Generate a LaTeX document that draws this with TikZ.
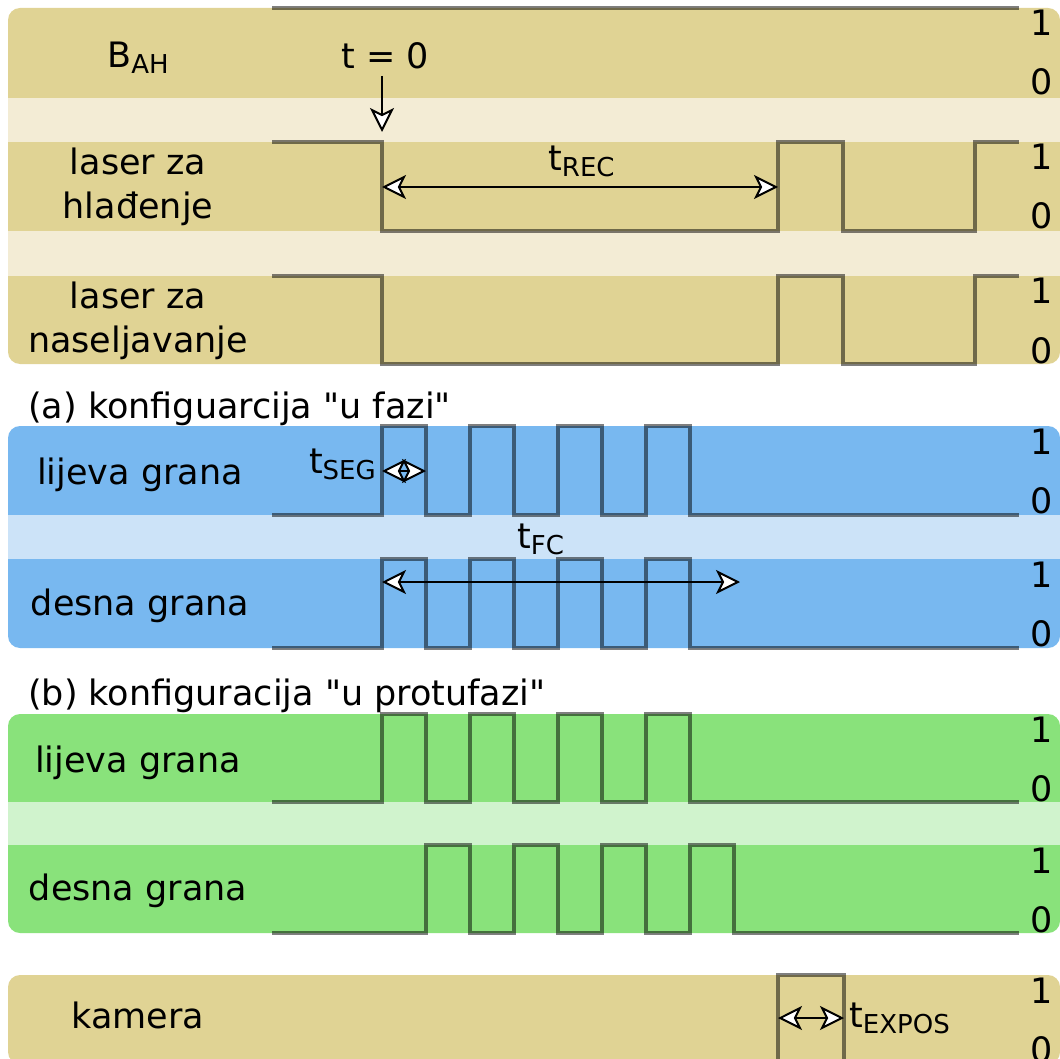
\documentclass[tikz,border=0pt]{standalone}
\usepackage{fontspec}
\setmainfont{DejaVu Sans}
\usetikzlibrary{arrows.meta}

\definecolor{tan}{RGB}{224,211,148}
\definecolor{tanlight}{RGB}{243,236,213}
\definecolor{blu}{RGB}{120,184,240}
\definecolor{blulight}{RGB}{204,227,248}
\definecolor{grn}{RGB}{137,226,123}
\definecolor{grnlight}{RGB}{208,243,205}

\newcommand{\lsub}[1]{\raisebox{-6pt}{\fontsize{26}{26}\selectfont #1}}
\newcommand{\dq}{\XeTeXglyph\XeTeXcharglyph"0022\relax}

\begin{document}
\begin{tikzpicture}[x=1pt, y=-1pt,
  every node/.style={font=\fontsize{35}{44}\selectfont, inner sep=0pt},
  sig/.style={draw=black, draw opacity=.5, line width=3.5pt},
  dim/.style={draw=black, line width=2pt},
  >={Stealth[length=24pt, width=24pt, inset=6pt, fill=white]}]
  \useasboundingbox (0,0) rectangle (1060,1059);

  % pozadina
  \fill[tan, rounded corners=12pt] (8,8) rectangle (1060,364);
  \fill[tanlight] (8,98) rectangle (1060,142);
  \fill[tanlight] (8,231) rectangle (1060,276);
  \fill[blu, rounded corners=12pt] (8,426) rectangle (1060,648);
  \fill[blulight] (8,515) rectangle (1060,559);
  \fill[grn, rounded corners=12pt] (8,714) rectangle (1060,933);
  \fill[grnlight] (8,802) rectangle (1060,845);
  \fill[tan, rounded corners=12pt] (8,975) rectangle (1060,1064);

  % signali
  \draw[sig] (272,8) -- (1019,8);
  \draw[sig] (272,142) -- (382,142) -- (382,231) -- (778,231) -- (778,142) -- (843,142) -- (843,231) -- (975,231) -- (975,142) -- (1019,142);
  \draw[sig] (272,276) -- (382,276) -- (382,364) -- (778,364) -- (778,276) -- (843,276) -- (843,364) -- (975,364) -- (975,276) -- (1019,276);
  \draw[sig] (272,515) foreach \k in {0,...,3} {-- (382+88*\k,515) -- (382+88*\k,426) -- (426+88*\k,426) -- (426+88*\k,515)} -- (1019,515);
  \draw[sig] (272,648) foreach \k in {0,...,3} {-- (382+88*\k,648) -- (382+88*\k,559) -- (426+88*\k,559) -- (426+88*\k,648)} -- (1019,648);
  \draw[sig] (272,802) foreach \k in {0,...,3} {-- (382+88*\k,802) -- (382+88*\k,714) -- (426+88*\k,714) -- (426+88*\k,802)} -- (1019,802);
  \draw[sig] (272,933) foreach \k in {0,...,3} {-- (426+88*\k,933) -- (426+88*\k,845) -- (470+88*\k,845) -- (470+88*\k,933)} -- (1019,933);
  \draw[sig] (272,1064) -- (778,1064) -- (778,975) -- (844,975) -- (844,1064) -- (1019,1064);

  % oznake
  \node (bah) [anchor=base] at (138,68) {B\lsub{AH}};
  \node (cool) [align=center] at (138,187) {laser za\\hlađenje};
  \node (load) [align=center] at (138,321) {laser za\\naseljavanje};
  \node (capa) [anchor=base west] at (28,418) {(a) konfiguarcija \dq u fazi\dq};
  \node (bl) [anchor=base] at (140,484) {lijeva grana};
  \node (br) [anchor=base] at (140,615) {desna grana};
  \node (capb) [anchor=base west] at (28,705) {(b) konfiguracija \dq u protufazi\dq};
  \node (gl) [anchor=base] at (138,772) {lijeva grana};
  \node (gr) [anchor=base] at (138,900) {desna grana};
  \node (cam) [anchor=base] at (138,1028) {kamera};

  \foreach \t/\n in {8/bah,142/cool,276/load,426/bl,559/br,714/gl,845/gr,975/cam} {
    \node (\n1) [anchor=base] at (1042,\t+28) {1};
    \node (\n0) [anchor=base] at (1042,\t+87) {0};
  }

  % vremena
  \node (t0) [anchor=base] at (385,69) {t = 0};
  \coordinate (t0a) at (382,76);
  \coordinate (t0b) at (382,132);
  \draw[dim, ->] (t0a) -- (t0b);

  \coordinate (rec0) at (382,187);
  \coordinate (rec1) at (778,187);
  \draw[dim, <->] (rec0) -- (rec1);
  \node (trec) [anchor=base west] at (548,171) {t\lsub{REC}};

  \coordinate (seg0) at (382,471);
  \coordinate (seg1) at (426,471);
  \draw[dim, <->] (seg0) -- (seg1);
  \node (tseg) [anchor=base east] at (376,473) {t\lsub{SEG}};

  \coordinate (fc0) at (382,582);
  \coordinate (fc1) at (740,582);
  \draw[dim, <->] (fc0) -- (fc1);
  \node (tfc) [anchor=base west] at (517,548) {t\lsub{FC}};

  \coordinate (exp0) at (778,1018);
  \coordinate (exp1) at (844,1018);
  \draw[dim, <->] (exp0) -- (exp1);
  \node (texp) [anchor=base west] at (849,1027) {t\lsub{EXPOS}};
\end{tikzpicture}
\end{document}
